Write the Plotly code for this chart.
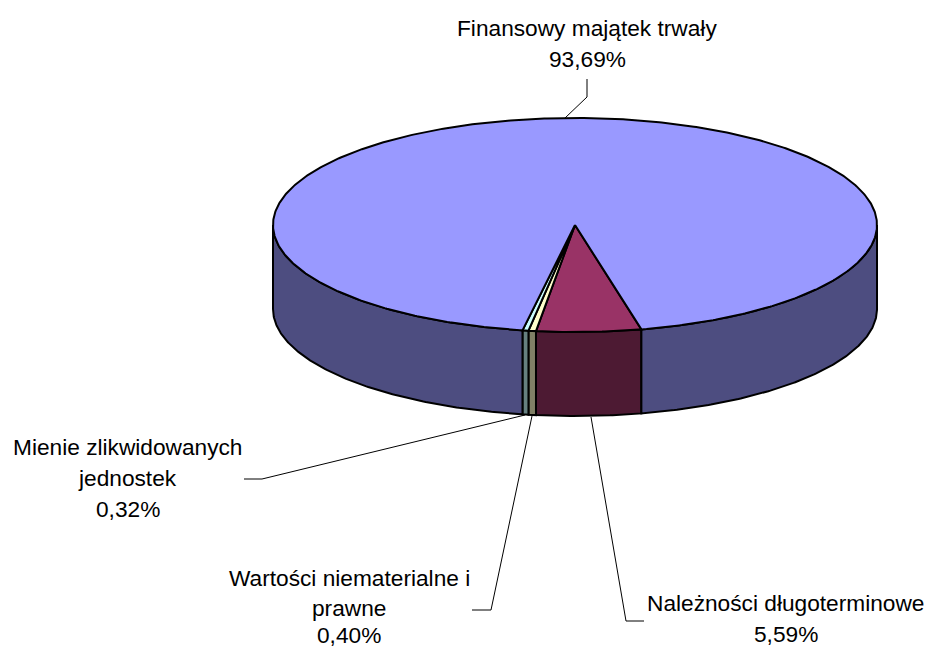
import math
import plotly.graph_objects as go

# Data
labels = ["Należności długoterminowe", "Wartości niematerialne i prawne",
          "Mienie zlikwidowanych jednostek", "Finansowy majątek trwały"]
shares = [5.59, 0.40, 0.32, 93.69]
top_colors = ["#993366", "#FFFFCC", "#CCFFFF", "#9999FF"]
side_colors = ["#4D1A33", "#808066", "#668080", "#4D4D80"]
label_lines = [["Należności długoterminowe"], ["Wartości niematerialne i", "prawne"],
               ["Mienie zlikwidowanych", "jednostek"], ["Finansowy majątek trwały"]]

# Layout / projection settings (pixel space of the figure)
W, H = 927, 648
CX, CY, RX, RY, DEPTH = 575, 225, 302, 107, 84
START = 167.3
FONT = "Liberation Sans, Arial, sans-serif"
FS = 22.7
label_x = [785.5, 349, 127.5, 587]
label_y = [[603, 634], [578, 608, 635], [447, 478, 509], [28, 59]]
leaders = [[(591, 417), (626, 621), (644, 621)],
           [(532, 416), (491, 610), (472, 610)],
           [(525, 415), (262, 479), (244, 479)],
           [(565, 118), (587, 97), (587, 79)]]


def pt(theta, dy=0.0):
    t = math.radians(theta)
    return CX + RX * math.sin(t), CY - RY * math.cos(t) + dy


def arc(a, b, dy=0.0):
    n = max(2, int(abs(b - a) * 2) + 1)
    return [pt(a + (b - a) * i / (n - 1), dy) for i in range(n)]


fig = go.Figure()
angle = START
spans = []
for s in shares:
    sweep = s * 3.6
    spans.append((angle, angle + sweep))
    angle += sweep


def add_poly(points, fill, name):
    xs = [p[0] for p in points] + [points[0][0]]
    ys = [p[1] for p in points] + [points[0][1]]
    fig.add_trace(go.Scatter(x=xs, y=ys, mode="lines", fill="toself", fillcolor=fill,
                             line=dict(color="#000000", width=2), name=name,
                             hoverinfo="name", showlegend=False))


# Outer walls: only the part of each slice facing the viewer (90..270 degrees, also +360)
for (a, b), c, name in zip(spans, side_colors, labels):
    for lo, hi in ((90, 270), (450, 630)):
        s, e = max(a, lo), min(b, hi)
        if e > s:
            add_poly(arc(s, e) + arc(e, s, DEPTH), c, name)

# Top faces
for (a, b), c, name in zip(spans, top_colors, labels):
    add_poly([(CX, CY)] + arc(a, b), c, name)

# Leader lines
for path in leaders:
    fig.add_trace(go.Scatter(x=[p[0] for p in path], y=[p[1] for p in path], mode="lines",
                             line=dict(color="#000000", width=1), hoverinfo="skip",
                             showlegend=False))

# Labels
annotations = []
for lines, share, x, ys in zip(label_lines, shares, label_x, label_y):
    texts = lines + [f"{share:.2f}%".replace(".", ",")]
    for t, y in zip(texts, ys):
        annotations.append(dict(x=x, y=y, xref="x", yref="y", text=t, showarrow=False,
                                xanchor="center", yanchor="middle",
                                font=dict(family=FONT, size=FS, color="#000000")))

fig.update_layout(width=W, height=H, margin=dict(l=0, r=0, t=0, b=0),
                  paper_bgcolor="#FFFFFF", plot_bgcolor="#FFFFFF",
                  showlegend=False, annotations=annotations,
                  xaxis=dict(range=[0, W], visible=False, fixedrange=True),
                  yaxis=dict(range=[H, 0], visible=False, fixedrange=True))
fig.write_html("out.html", config=dict(displayModeBar=False),
               post_script="document.body.style.margin='0';document.body.style.overflow='hidden';")
